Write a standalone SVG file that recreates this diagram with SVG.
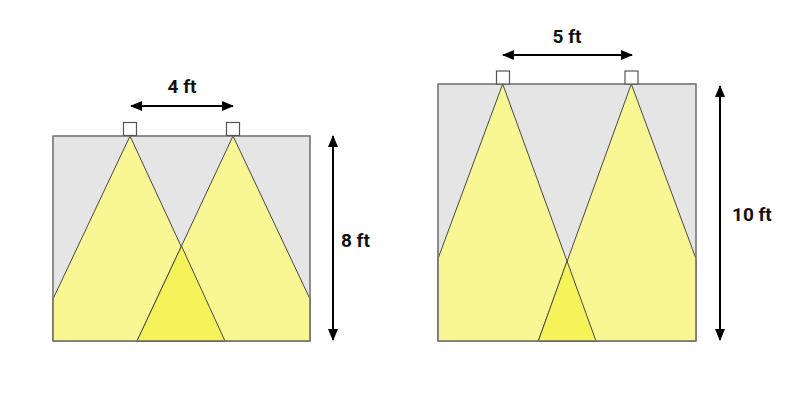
<svg xmlns="http://www.w3.org/2000/svg" width="800" height="400" viewBox="0 0 800 400">
<defs>
<marker id="ah" viewBox="0 0 12 10" refX="11" refY="5" markerWidth="12" markerHeight="10" markerUnits="userSpaceOnUse" orient="auto-start-reverse">
<path d="M0,0 L12,5 L0,10 Z" fill="#000"/>
</marker>
<style>
.room{fill:#e5e5e5;stroke:#7a7a7a;stroke-width:1.2}
.beam{fill:#f9f793;stroke:#4a4a3a;stroke-width:1}
.ovl{fill:#f6f35a;stroke:#4a4a3a;stroke-width:1}
.fix{fill:#fff;stroke:#555;stroke-width:1.2}
.dim{stroke:#000;stroke-width:2;fill:none;marker-start:url(#ah);marker-end:url(#ah)}
.lbl{font-family:Roboto,"Liberation Sans",sans-serif;font-weight:bold;font-size:19px;fill:#111}
</style>
</defs>
<rect width="800" height="400" fill="#fff"/>
<g id="room-8ft">
<rect class="room" x="53" y="136" width="257" height="205"/>
<polygon class="beam" points="130,136 53,299 53,341 225,341"/>
<polygon class="beam" points="233,136 137,341 310,341 310,299"/>
<polygon class="ovl" points="181.5,246 137,341 225,341"/>
<rect class="room" x="53" y="136" width="257" height="205" style="fill:none"/>
<rect class="fix" x="123.5" y="122.5" width="13" height="13"/>
<rect class="fix" x="226.5" y="122.5" width="13" height="13"/>
</g>
<g id="room-10ft">
<rect class="room" x="438" y="84" width="258" height="257"/>
<polygon class="beam" points="502.7,84 438,258.7 438,341 596,341"/>
<polygon class="beam" points="631.3,84 538.3,341 696,341 696,258.7"/>
<polygon class="ovl" points="567,261 538.3,341 596,341"/>
<rect class="room" x="438" y="84" width="258" height="257" style="fill:none"/>
<rect class="fix" x="496.5" y="71" width="13" height="13"/>
<rect class="fix" x="625" y="71" width="13" height="13"/>
</g>
<g id="connectors">
<line class="dim" x1="131" y1="106" x2="233" y2="106"/>
<line class="dim" x1="333" y1="136" x2="333" y2="340"/>
<line class="dim" x1="503" y1="55" x2="632" y2="55"/>
<line class="dim" x1="720" y1="86" x2="720" y2="340"/>
</g>
<g id="labels">
<text class="lbl" x="182" y="93" text-anchor="middle">4 ft</text>
<text class="lbl" x="341" y="247">8 ft</text>
<text class="lbl" x="567" y="43" text-anchor="middle">5 ft</text>
<text class="lbl" x="732" y="221">10 ft</text>
</g>
</svg>
